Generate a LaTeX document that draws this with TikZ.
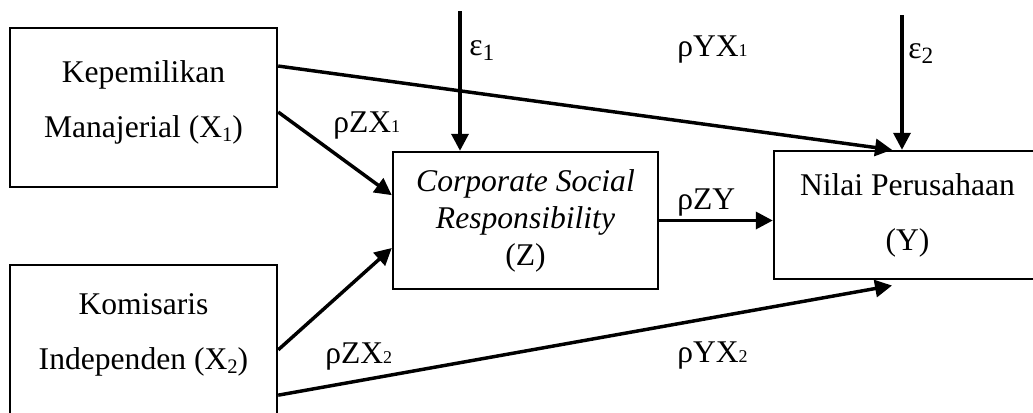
\documentclass[tikz,border=0pt]{standalone}
\usepackage{fontspec}
\setmainfont{Liberation Serif}
\usetikzlibrary{arrows.meta}
\newcommand{\boxsub}[1]{\raisebox{-0.3ex}{\fontsize{15.5}{15.5}\selectfont#1}}
\newcommand{\coefsub}[1]{{\fontsize{13.5}{13.5}\selectfont#1}}
\newcommand{\errsub}[1]{\raisebox{-0.35ex}{\fontsize{17.5}{17.5}\selectfont#1}}
\tikzset{
  varbox/.style={draw, line width=1.8pt, inner sep=0pt, align=center, font=\fontsize{23.7}{41.25}\selectfont},
  pathline/.style={line width=2.6pt, -{Triangle[length=12.75pt,width=12.75pt]}},
  coef/.style={anchor=base west, inner sep=0pt, font=\fontsize{23.7}{28}\selectfont}
}
\begin{document}
\begin{tikzpicture}[x=0.75pt,y=0.75pt,yscale=-1,xscale=1]
  \useasboundingbox (0,0) rectangle (1033,412);
  \node [varbox, minimum width=200.25pt, minimum height=119.25pt, text depth=13pt] (X1) at (143.5,107.5) {Kepemilikan\\Manajerial (X\boxsub{1})};
  \node [varbox, minimum width=200.25pt, minimum height=119.25pt, text depth=20pt] (X2) at (143.5,344.5) {Komisaris\\Independen (X\boxsub{2})};
  \node [varbox, minimum width=198.75pt, minimum height=102.75pt, font=\fontsize{23.7}{27.75}\selectfont] (Z) at (525.5,220.5) {\textit{Corporate Social}\\\textit{Responsibility}\\(Z)};
  \node [varbox, minimum width=200.25pt, minimum height=96pt] (Y) at (907.5,215) {Nilai Perusahaan\\(Y)};
  \coordinate (e1) at (460,11);
  \coordinate (e2) at (902,15);
  \draw [pathline] (e1) -- (e1 |- Z.north);
  \draw [pathline] (e2) -- (e2 |- Y.north);
  \draw [pathline] ([yshift=-31.1pt]X1.east) -- ([xshift=-11.6pt]Y.north);
  \draw [pathline] ([yshift=3.4pt]X1.east) -- ([yshift=-19pt]Z.west);
  \draw [pathline] ([yshift=4pt]X2.east) -- ([yshift=20.6pt]Z.west);
  \draw [pathline] ([yshift=38pt]X2.east) -- ([xshift=-11.6pt,yshift=4pt]Y.south);
  \draw [pathline] (Z.east) -- (Z.east -| Y.west);
  \node [coef] (le1) at (469,55) {ε\errsub{1}};
  \node [coef] (le2) at (908,58) {ε\errsub{2}};
  \node [coef] (lYX1) at (677,56) {ρYX\coefsub{1}};
  \node [coef] (lZX1) at (333,132) {ρZX\coefsub{1}};
  \node [coef] (lZY) at (677,209) {ρZY};
  \node [coef] (lZX2) at (325,363) {ρZX\coefsub{2}};
  \node [coef] (lYX2) at (677,362) {ρYX\coefsub{2}};
\end{tikzpicture}
\end{document}
